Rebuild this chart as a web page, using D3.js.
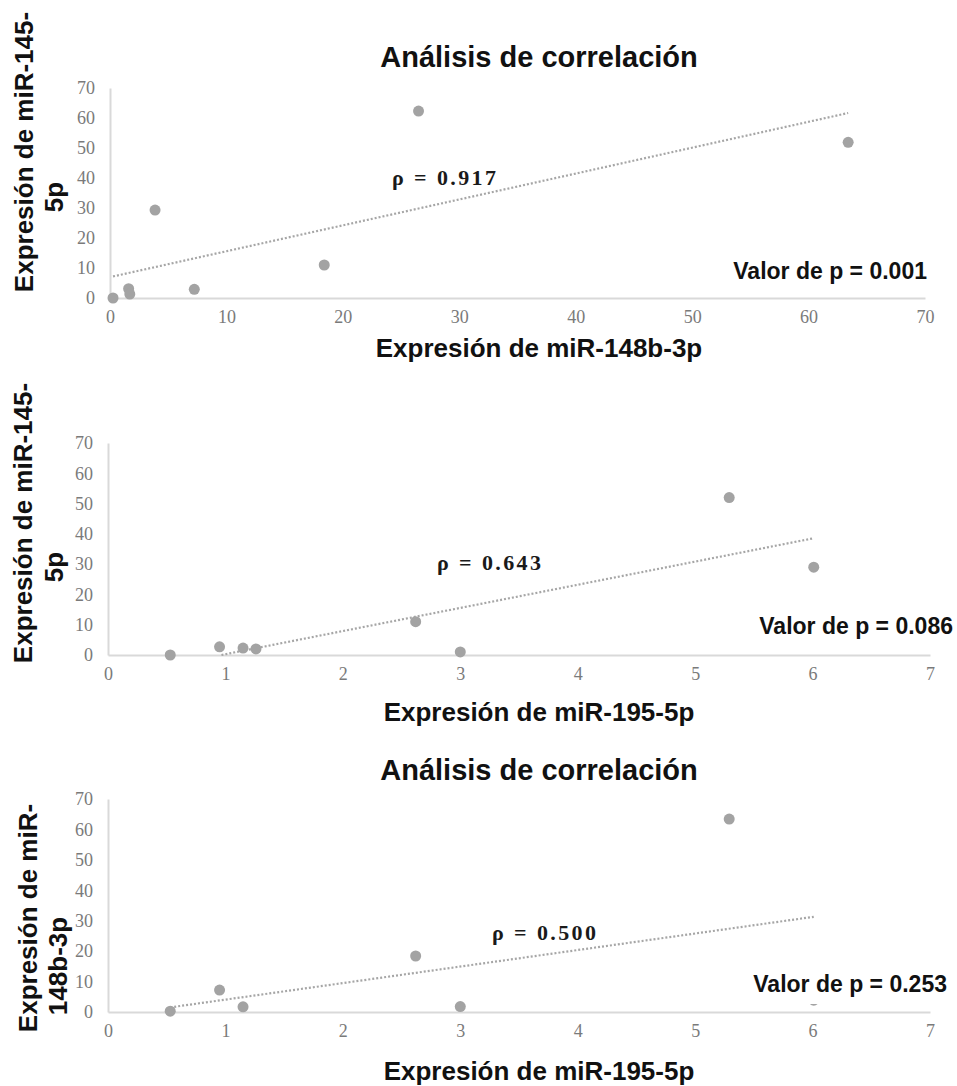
<!DOCTYPE html>
<html>
<head>
<meta charset="utf-8">
<script src="https://cdn.jsdelivr.net/npm/d3@7"></script>
<style>
  body { margin: 0; background: #fff; }
  .tick text { font-family: "Liberation Serif", serif; font-size: 18px; fill: #7a7a7a; }
  .lbl { font-family: "Liberation Sans", Arial, sans-serif; font-weight: bold; fill: #111; }
  .rho { font-family: "Liberation Serif", serif; font-weight: bold; font-size: 22px; fill: #1a1a1a; letter-spacing: 2.4px; }
</style>
</head>
<body>
<div id="chart"></div>
<script>
// panel 1: miR-148b-3p (x) vs miR-145-5p (y)
var p1X = [0.26, 1.6, 1.7, 3.87, 7.24, 18.4, 26.5, 63.4];
var p1Y = [0, 3.1, 1.3, 29.3, 2.9, 11, 62.3, 51.9];
var p1XTicks = [0, 10, 20, 30, 40, 50, 60, 70];

// panel 2: miR-195-5p (x) vs miR-145-5p (y)
var p2X = [0.53, 0.95, 1.15, 1.26, 2.62, 3.0, 5.29, 6.01];
var p2Y = [0, 2.7, 2.3, 2.0, 11, 1.0, 52, 29];

// panel 3: miR-195-5p (x) vs miR-148b-3p (y)
var p3X = [0.53, 0.95, 1.15, 2.62, 3.0, 5.29, 6.01];
var p3Y = [0.26, 7.2, 1.7, 18.4, 1.8, 63.4, 3.9];

var p23XTicks = [0, 1, 2, 3, 4, 5, 6, 7];
var yTicks = [0, 10, 20, 30, 40, 50, 60, 70];

var rhoLabels = ["\u03c1 = 0.917", "\u03c1 = 0.643", "\u03c1 = 0.500"];
var pLabels = ["Valor de p = 0.001", "Valor de p = 0.086", "Valor de p = 0.253"];
var titles = ["An\u00e1lisis de correlaci\u00f3n", null, "An\u00e1lisis de correlaci\u00f3n"];
var xTitles = ["Expresi\u00f3n de miR-148b-3p", "Expresi\u00f3n de miR-195-5p", "Expresi\u00f3n de miR-195-5p"];
var yTitles = [["Expresi\u00f3n de miR-145-", "5p"], ["Expresi\u00f3n de miR-145-", "5p"], ["Expresi\u00f3n de miR-", "148b-3p"]];

var svg = d3.select("#chart").append("svg")
    .attr("width", 957)
    .attr("height", 1086);

// layout of each panel (pixels)
var panels = [
  {xs: p1X, ys: p1Y, xmax: 70, xticks: p1XTicks, left: 110, right: 925, top: 88, bottom: 298,
   titleY: 67, xTitleY: 357, yl: [{x: 33, y: 152}, {x: 63, y: 197}],
   rho: {x: 392, y: 185}, pv: {x: 927, y: 279}},
  {xs: p2X, ys: p2Y, xmax: 7, xticks: p23XTicks, left: 108, right: 930, top: 443, bottom: 655,
   titleY: null, xTitleY: 721, yl: [{x: 32, y: 523}, {x: 63, y: 567}],
   rho: {x: 437, y: 570}, pv: {x: 953, y: 634}},
  {xs: p3X, ys: p3Y, xmax: 7, xticks: p23XTicks, left: 108, right: 930, top: 799, bottom: 1012,
   titleY: 780, xTitleY: 1080, yl: [{x: 37, y: 918}, {x: 67, y: 966}],
   rho: {x: 492, y: 940}, pv: {x: 947, y: 992}}
];

panels.forEach(function(p, i) {
  var g = svg.append("g");

  var x = d3.scaleLinear().domain([0, p.xmax]).range([p.left, p.right]);
  var y = d3.scaleLinear().domain([0, 70]).range([p.bottom, p.top]);

  // axes
  var xa = g.append("g")
      .attr("transform", "translate(0," + p.bottom + ")")
      .call(d3.axisBottom(x).tickValues(p.xticks).tickFormat(d3.format("d")).tickSize(0).tickPadding(12));
  var ya = g.append("g")
      .attr("transform", "translate(" + p.left + ",0)")
      .call(d3.axisLeft(y).tickValues(yTicks).tickFormat(d3.format("d")).tickSize(0).tickPadding(15));
  [xa, ya].forEach(function(a) {
    a.select(".domain").attr("stroke", "#d9d9d9").attr("stroke-width", 2);
  });

  var data = p.xs.map(function(v, k) { return {x: v, y: p.ys[k]}; });

  // linear trend line (least squares), clipped at y = 0
  var mx = d3.mean(data, function(d) { return d.x; });
  var my = d3.mean(data, function(d) { return d.y; });
  var sxy = d3.sum(data, function(d) { return (d.x - mx) * (d.y - my); });
  var sxx = d3.sum(data, function(d) { return (d.x - mx) * (d.x - mx); });
  var slope = sxy / sxx, icpt = my - slope * mx;
  var x0 = d3.min(data, function(d) { return d.x; });
  var x1 = d3.max(data, function(d) { return d.x; });
  if (slope * x0 + icpt < 0) x0 = -icpt / slope;
  g.append("line")
      .attr("x1", x(x0)).attr("y1", y(slope * x0 + icpt))
      .attr("x2", x(x1)).attr("y2", y(slope * x1 + icpt))
      .attr("stroke", "#a6a6a6")
      .attr("stroke-width", 2.2)
      .attr("stroke-dasharray", "2,2");

  // dots
  g.append("g").selectAll("circle")
      .data(data)
      .enter()
      .append("circle")
      .attr("cx", function(d) { return x(d.x); })
      .attr("cy", function(d) { return y(d.y); })
      .attr("r", 5.5)
      .style("fill", "#a3a3a3");

  // rho label
  g.append("text")
      .attr("class", "rho")
      .attr("x", p.rho.x)
      .attr("y", p.rho.y)
      .text(rhoLabels[i]);

  // p value label (white box behind, as in the original)
  var pt = g.append("text")
      .attr("class", "lbl")
      .attr("x", p.pv.x)
      .attr("y", p.pv.y)
      .attr("text-anchor", "end")
      .style("font-size", "23px")
      .text(pLabels[i]);
  var bb = pt.node().getBBox();
  g.insert("rect", "text.lbl")
      .attr("x", bb.x - 2).attr("y", bb.y)
      .attr("width", bb.width + 4).attr("height", bb.height + 7)
      .attr("fill", "#fff");

  // title
  if (titles[i]) {
    g.append("text")
        .attr("class", "lbl")
        .attr("x", 539)
        .attr("y", p.titleY)
        .attr("text-anchor", "middle")
        .style("font-size", "29px")
        .text(titles[i]);
  }

  // x axis title
  g.append("text")
      .attr("class", "lbl")
      .attr("x", 539)
      .attr("y", p.xTitleY)
      .attr("text-anchor", "middle")
      .style("font-size", "26px")
      .text(xTitles[i]);

  // y axis title, two lines
  yTitles[i].forEach(function(t, k) {
    g.append("text")
        .attr("class", "lbl")
        .attr("transform", "translate(" + p.yl[k].x + "," + p.yl[k].y + ") rotate(-90)")
        .attr("text-anchor", "middle")
        .style("font-size", "26px")
        .text(t);
  });
});
</script>
</body>
</html>
